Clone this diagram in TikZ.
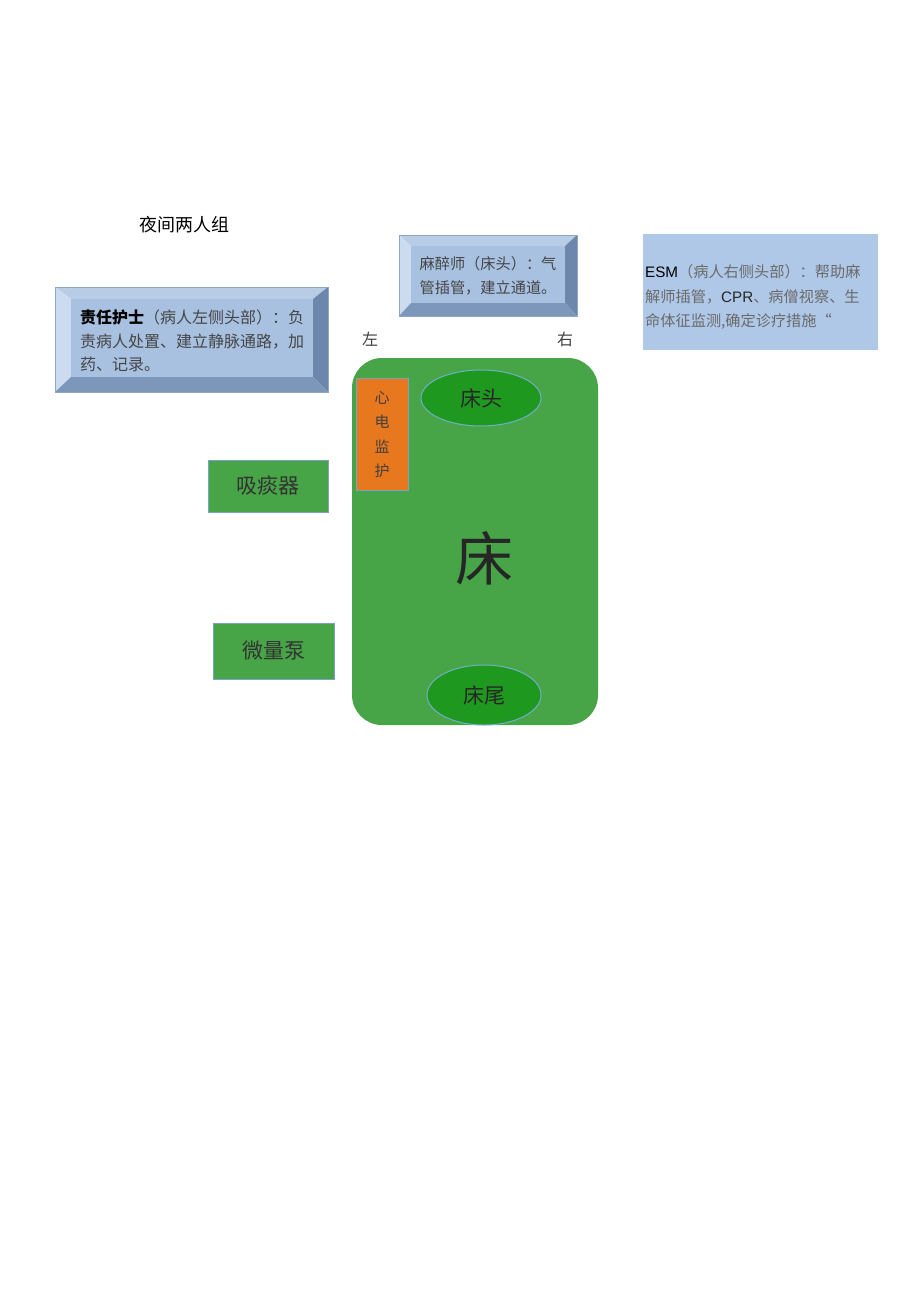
\documentclass[tikz,border=0pt]{standalone}
\usepackage{fontspec}
\setmainfont{Liberation Serif}
\newfontfamily\cjk{Noto Sans CJK SC}
\newfontfamily\arialf{Liberation Sans}
\usetikzlibrary{shapes.geometric}
\definecolor{facecol}{HTML}{A8C1E0}
\definecolor{bevtop}{HTML}{B8CCE5}
\definecolor{bevleft}{HTML}{CCDBEF}
\definecolor{bevright}{HTML}{6C87AB}
\definecolor{bevbot}{HTML}{7D97BB}
\definecolor{bevedge}{HTML}{8FA6C4}
\definecolor{esmcol}{HTML}{AFC8E7}
\definecolor{bedgreen}{HTML}{47A447}
\definecolor{ovalgreen}{HTML}{1F981F}
\definecolor{ovaledge}{HTML}{6FB0C8}
\definecolor{boxedge}{HTML}{7E9FC6}
\definecolor{monorange}{HTML}{E8781E}
\definecolor{txtgray}{HTML}{454545}
\definecolor{esmgray}{HTML}{6A6A6A}
\tikzset{
  facebox/.style={fill=facecol, inner sep=0pt, align=left, text=txtgray},
  devbox/.style={fill=bedgreen, draw=boxedge, line width=1pt, inner sep=0pt,
     font=\cjk\fontsize{21}{21}\selectfont, text=black!80},
  oval/.style={ellipse, fill=ovalgreen, draw=ovaledge, line width=1pt, inner sep=0pt,
     font=\cjk\fontsize{21}{21}\selectfont, text=black!85},
  sidelabel/.style={font=\cjk\fontsize{16}{16}\selectfont, text=black!75}
}
\begin{document}
\begin{tikzpicture}[x=1pt,y=-1pt]
\useasboundingbox[fill=white] (0,0) rectangle (920,1301);

% title
\node[font=\cjk\fontsize{18}{18}\selectfont, text=black] (title) at (184,225) {夜间两人组};

% nurse bevel box
\fill[bevtop] (55,287) -- (328,287) -- (313,299) -- (71,299) -- cycle;
\fill[bevleft] (55,287) -- (71,299) -- (71,377) -- (55,392) -- cycle;
\fill[bevright] (328,287) -- (328,392) -- (313,377) -- (313,299) -- cycle;
\fill[bevbot] (55,392) -- (328,392) -- (313,377) -- (71,377) -- cycle;
\draw[bevedge, line width=0.8pt] (55,287) rectangle (328,392);
\node[facebox, minimum width=242pt, minimum height=78pt] (nurse) at (192,338) {};
\node[text=txtgray, align=left, inner sep=0pt, font=\cjk\fontsize{16}{23.5}\selectfont] (nursetxt) at (192,341)
 {{\bfseries\color{black}责任护士}（病人左侧头部）：负\\责病人处置、建立静脉通路，加\\药、记录。};

% anesthetist bevel box
\fill[bevtop] (399,235) -- (577,235) -- (565,246) -- (411,246) -- cycle;
\fill[bevleft] (399,235) -- (411,246) -- (411,303) -- (399,316) -- cycle;
\fill[bevright] (577,235) -- (577,316) -- (565,303) -- (565,246) -- cycle;
\fill[bevbot] (399,316) -- (577,316) -- (565,303) -- (411,303) -- cycle;
\draw[bevedge, line width=0.8pt] (399,235) rectangle (577,316);
\node[facebox, minimum width=154pt, minimum height=57pt] (anes) at (488,274.5) {};
\node[text=txtgray, align=left, inner sep=0pt, font=\cjk\fontsize{15.2}{23.5}\selectfont] (anestxt) at (488,276)
 {麻醉师（床头）：气\\管插管，建立通道。};

% ESM box
\node[fill=esmcol, minimum width=235pt, minimum height=116pt, inner sep=0pt] (esm) at (760.5,292) {};
\node[anchor=west, text=esmgray, align=left, inner sep=0pt, font=\cjk\fontsize{15.2}{24.5}\selectfont] (esmtxt) at (645,297)
 {{\arialf\color{black}ESM}（病人右侧头部）：帮助麻\\解师插管，{\arialf\color{black!85}CPR}、病僧视察、生\\命体征监测,确定诊疗措施“};

% side labels
\node[sidelabel] (left) at (370,339) {左};
\node[sidelabel] (right) at (565,339) {右};

% bed
\fill[bedgreen, rounded corners=30pt] (352,358) rectangle (598,725);
\node[font=\cjk\fontsize{58}{58}\selectfont, text=black!85] (bedtxt) at (484,558) {床};

% monitor
\node[fill=monorange, draw=boxedge, line width=1pt, minimum width=52pt, minimum height=112pt, inner sep=0pt] (monitor) at (382,434) {};
\node[align=center, inner sep=0pt, text=black!75, font=\cjk\fontsize{15}{24.5}\selectfont] (montxt) at (382,434.5) {心\\电\\监\\护};

% head and foot
\node[oval, minimum width=120pt, minimum height=56pt] (head) at (481,398) {\raisebox{-2pt}{床头}};
\node[oval, minimum width=114pt, minimum height=60pt] (foot) at (484,695) {\raisebox{-3pt}{床尾}};

% devices
\node[devbox, minimum width=120pt, minimum height=52pt] (suction) at (268,486) {\raisebox{-5pt}{吸痰器}};
\node[devbox, minimum width=121pt, minimum height=56pt] (pump) at (273.5,651) {\raisebox{-4pt}{微量泵}};
\end{tikzpicture}
\end{document}
